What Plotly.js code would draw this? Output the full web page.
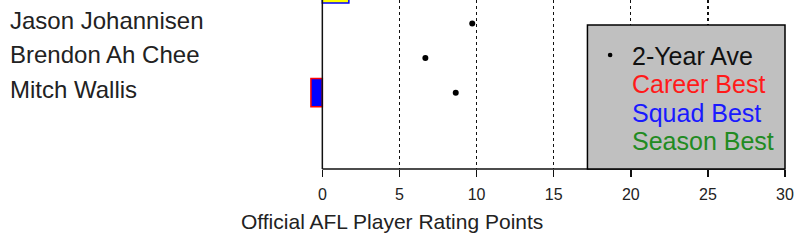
<!DOCTYPE html>
<html>
<head>
<meta charset="utf-8">
<script src="https://cdn.plot.ly/plotly-3.0.1.min.js"></script>
<style>html,body{margin:0;padding:0;background:#fff;}#chart{width:800px;height:247px;}</style>
</head>
<body>
<div id="chart"></div>
<script>
// Data (top row is cut off in the picture; its name is not visible)
var players = ["(name cut off)", "Jason Johannisen", "Brendon Ah Chee", "Mitch Wallis"];
var barValues = [1.72, null, null, -0.74];
var barFill = ["#ffff00", null, null, "#0000ff"];
var barEdge = ["#0000ff", null, null, "#ff0000"];
var twoYearAve = [null, 9.72, 6.68, 8.65];
var xTicks = [0, 5, 10, 15, 20, 25, 30];
var legendLabels = ["2-Year Ave", "Career Best", "Squad Best", "Season Best"];
var legendColors = ["#111111", "#ff1a1a", "#1a1aff", "#228b22"];
var axisTitle = "Official AFL Player Rating Points";

var FONT = "Liberation Sans, Arial, sans-serif";
var xMin = -0.8, xMax = 30;
var unitPx = 463 / 30;                 // pixels per rating point
var plotW = (xMax - xMin) * unitPx;
var plotH = 169;
var L = 322 + xMin * unitPx;           // left margin so that 0 sits at x=322
var R = 800 - L - plotW;
function px2x(p){ return (p - L) / plotW; }
function py2y(p){ return (plotH - p) / plotH; }

var traces = [
  {
    type: "bar", orientation: "h",
    x: barValues, y: players,
    width: 0.82,
    marker: {color: barFill.map(function(c){return c || "rgba(0,0,0,0)";}),
             line: {color: barEdge.map(function(c){return c || "rgba(0,0,0,0)";}), width: 1.5}},
    cliponaxis: false,
    hoverinfo: "skip", showlegend: false
  },
  {
    type: "scatter", mode: "markers",
    x: twoYearAve, y: players,
    marker: {color: "#000", size: 6},
    name: legendLabels[0], showlegend: false
  }
];

var annotations = [];
for (var i = 1; i < players.length; i++) {
  annotations.push({
    xref: "paper", yref: "y", x: px2x(7), y: players[i], yshift: 3.3,
    xanchor: "left", yanchor: "middle", showarrow: false,
    text: players[i], font: {family: FONT, size: 24, color: "#222"}
  });
}
annotations.push({
  xref: "paper", yref: "paper", x: px2x(391.5), y: py2y(221),
  xanchor: "center", yanchor: "middle", showarrow: false,
  text: axisTitle, font: {family: FONT, size: 21, color: "#222"}
});
var legendY = [56.2, 84.1, 113.0, 140.6];
for (var k = 0; k < legendLabels.length; k++) {
  annotations.push({
    xref: "paper", yref: "paper", x: px2x(630), y: py2y(legendY[k]),
    xanchor: "left", yanchor: "middle", showarrow: false,
    text: legendLabels[k], font: {family: FONT, size: 25, color: legendColors[k]}
  });
}

var shapes = [
  // axis lines (left axis at 0, bottom axis from 0 to 30)
  {type: "line", xref: "x", yref: "paper", x0: 0, x1: 0, y0: 0, y1: 1,
   line: {color: "#111", width: 1.5}, layer: "above"},
  {type: "line", xref: "x", yref: "paper", x0: 0, x1: 30, y0: 0, y1: 0,
   line: {color: "#111", width: 1.5}, layer: "above"},
  // legend box
  {type: "rect", xref: "paper", yref: "paper", x0: px2x(587.3), x1: px2x(785), y0: 0, y1: py2y(25),
   fillcolor: "#c0c0c0", line: {color: "#000", width: 1.5}, layer: "above"},
  {type: "circle", xref: "paper", yref: "paper",
   x0: px2x(610 - 2.3), x1: px2x(610 + 2.3), y0: py2y(55 + 2.3), y1: py2y(55 - 2.3),
   fillcolor: "#000", line: {width: 0}, layer: "above"}
];

var layout = {
  width: 800, height: 247,
  margin: {l: L, r: R, t: 0, b: 78, pad: 0},
  paper_bgcolor: "#fff", plot_bgcolor: "#fff",
  showlegend: false,
  font: {family: FONT, color: "#222"},
  xaxis: {
    range: [xMin, xMax], tickvals: xTicks, ticktext: xTicks.map(String),
    showgrid: true, gridcolor: "#111", griddash: "dot", gridwidth: 1.3,
    zeroline: false, showline: false,
    ticks: "outside", ticklen: 7, tickwidth: 1.5, tickcolor: "#111",
    ticklabelstandoff: 4,
    tickfont: {family: FONT, size: 16, color: "#222"},
    fixedrange: true
  },
  yaxis: {
    type: "category", categoryorder: "array", categoryarray: players,
    range: [5.205, 0.324],
    showgrid: false, zeroline: false, showline: false,
    ticks: "", showticklabels: false, fixedrange: true
  },
  annotations: annotations,
  shapes: shapes
};

Plotly.newPlot("chart", traces, layout, {staticPlot: true, displayModeBar: false});
</script>
</body>
</html>
